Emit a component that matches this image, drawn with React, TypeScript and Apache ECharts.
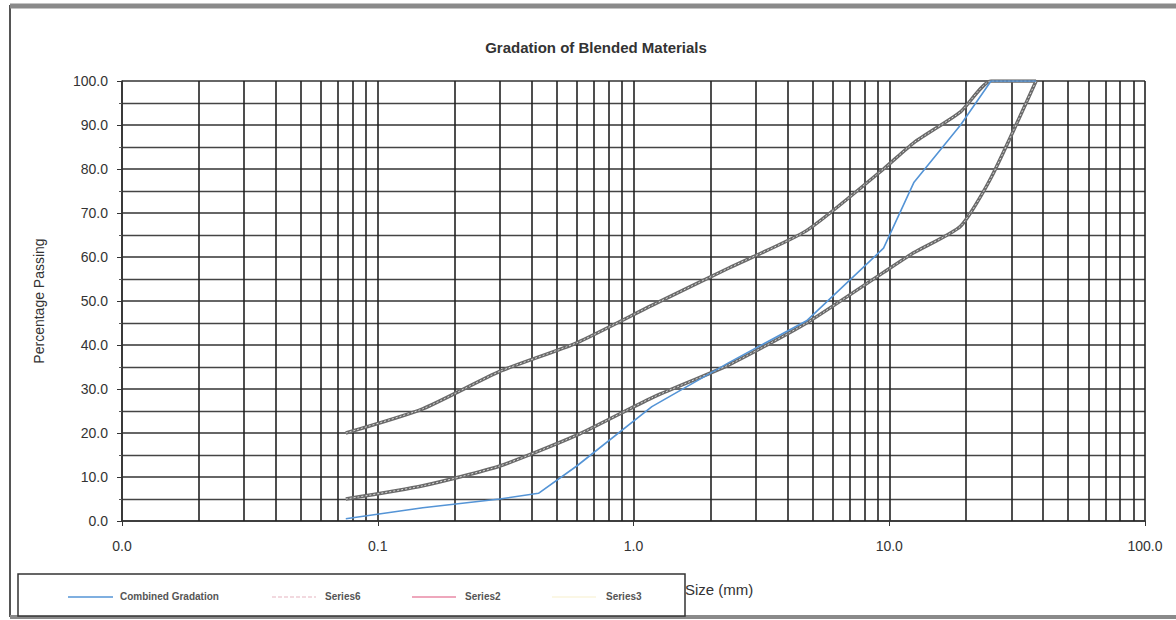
import React, { useEffect, useRef } from "react";
import * as echarts from "echarts";

// Sieve sizes (mm) and percentage passing
const UPPER_SIZES = [0.075, 0.15, 0.3, 0.6, 1.18, 2.36, 4.75, 9.5, 12.5, 19, 25, 37.5];
const UPPER_LIMIT = [20, 25.5, 34, 40.5, 49, 57.5, 66, 80, 86, 93, 100, 100];

const LOWER_SIZES = [0.075, 0.15, 0.3, 0.6, 1.18, 2.36, 4.75, 9.5, 12.5, 19, 25, 37.5];
const LOWER_LIMIT = [5, 8, 12.5, 19.5, 28, 35.5, 45, 56.5, 61, 67, 78, 100];

const COMBINED_SIZES = [0.075, 0.15, 0.3, 0.425, 0.6, 1.18, 2.36, 4.75, 9.5, 12.5, 19, 25, 37.5];
const COMBINED = [0.5, 3, 5, 6.3, 12.5, 26, 36, 45.5, 62, 77, 90, 100, 100];

// Log grid structure
const DECADES = [0.01, 0.1, 1, 10];
const MINOR_MULTIPLES = [2, 3, 4, 5, 6, 7, 8, 9];

const LEGEND_ITEMS = ["Combined Gradation", "Series6", "Series2", "Series3"];

const zip = (xs: number[], ys: number[]) => xs.map((x, i) => [x, ys[i]]);

export default function App() {
  const ref = useRef<HTMLDivElement>(null);
  useEffect(() => {
    const chart = echarts.init(ref.current!, null, { renderer: "svg" });
    const minorLines: any[] = [];
    DECADES.forEach((d) => MINOR_MULTIPLES.forEach((m) => minorLines.push({ xAxis: +(d * m).toPrecision(6) })));

    const envLine = { color: "#6a6a6a", width: 3.5 };
    const envOverlay = { color: "#d9d9d9", width: 1, type: [2, 2] as any };
    const envSmooth = 0.2;

    const font = "'Liberation Sans', Arial, sans-serif";

    chart.setOption({
      animation: false,
      backgroundColor: "#ffffff",
      title: {
        text: "Gradation of Blended Materials",
        left: 591,
        top: 35,
        textAlign: "center",
        textStyle: { fontFamily: font, fontSize: 15, fontWeight: "bold", color: "#333" },
      },
      grid: { left: 122, right: 31, top: 81, bottom: 99 },
      xAxis: {
        type: "log",
        logBase: 10,
        min: 0.01,
        max: 100,
        axisLine: { show: true, lineStyle: { color: "#333", width: 1.5 } },
        axisTick: { show: true, length: 5, lineStyle: { color: "#333" } },
        axisLabel: {
          margin: 18,
          fontFamily: font,
          fontSize: 14,
          color: "#333",
          formatter: (v: number) => v.toFixed(1),
        },
        splitLine: { show: true, lineStyle: { color: "#222", width: 1.6 } },
      },
      yAxis: {
        type: "value",
        min: 0,
        max: 100,
        interval: 10,
        name: "Percentage Passing",
        nameLocation: "middle",
        nameGap: 76,
        nameTextStyle: { fontFamily: font, fontSize: 14, color: "#333" },
        axisLine: { show: true, lineStyle: { color: "#333", width: 1.5 } },
        axisTick: { show: true, length: 5, lineStyle: { color: "#333" } },
        minorTick: { show: true, splitNumber: 2, length: 3, lineStyle: { color: "#555" } },
        axisLabel: {
          margin: 14,
          fontFamily: font,
          fontSize: 14,
          color: "#333",
          formatter: (v: number) => v.toFixed(1),
        },
        splitLine: { show: true, lineStyle: { color: "#333", width: 1.6 } },
        minorSplitLine: { show: true, lineStyle: { color: "#444", width: 1.4 } },
      },
      series: [
        {
          name: "Series6",
          type: "line",
          data: zip(UPPER_SIZES, UPPER_LIMIT),
          showSymbol: false,
          smooth: envSmooth,
          lineStyle: envLine,
          silent: true,
          z: 3,
          markLine: {
            silent: true,
            symbol: "none",
            label: { show: false },
            lineStyle: { color: "#222", width: 1.6, type: "solid" },
            data: minorLines,
            z: 1,
          },
        },
        {
          name: "Series6-texture",
          type: "line",
          data: zip(UPPER_SIZES, UPPER_LIMIT),
          showSymbol: false,
          smooth: envSmooth,
          lineStyle: envOverlay,
          silent: true,
          z: 4,
        },
        {
          name: "Series2",
          type: "line",
          data: zip(LOWER_SIZES, LOWER_LIMIT),
          showSymbol: false,
          smooth: envSmooth,
          lineStyle: envLine,
          silent: true,
          z: 3,
        },
        {
          name: "Series2-texture",
          type: "line",
          data: zip(LOWER_SIZES, LOWER_LIMIT),
          showSymbol: false,
          smooth: envSmooth,
          lineStyle: envOverlay,
          silent: true,
          z: 4,
        },
        {
          name: "Combined Gradation",
          type: "line",
          data: zip(COMBINED_SIZES, COMBINED),
          showSymbol: false,
          lineStyle: { color: "#5494d6", width: 1.6 },
          silent: true,
          z: 5,
        },
      ],
      graphic: [
        // scan frame
        { type: "rect", shape: { x: 10, y: 6, width: 1170, height: 610 }, style: { fill: "none", stroke: "#555", lineWidth: 2 }, silent: true },
        { type: "line", shape: { x1: 10, y1: 6, x2: 1176, y2: 6 }, style: { stroke: "#8a8a8a", lineWidth: 5 }, silent: true },
        { type: "line", shape: { x1: 10, y1: 617, x2: 1176, y2: 617 }, style: { stroke: "#8a8a8a", lineWidth: 4 }, silent: true },
        // x axis name
        {
          type: "text",
          left: 685,
          top: 582,
          style: { text: "Size (mm)", fontFamily: font, fontSize: 15, fill: "#333" },
        },
        // legend box
        {
          type: "rect",
          shape: { x: 18, y: 574, width: 667, height: 42 },
          style: { fill: "#fff", stroke: "#333", lineWidth: 1.5 },
          silent: true,
        },
        { type: "line", shape: { x1: 68, y1: 597, x2: 113, y2: 597 }, style: { stroke: "#5494d6", lineWidth: 1.5 } },
        { type: "text", left: 120, top: 591, style: { text: LEGEND_ITEMS[0], fontFamily: font, fontSize: 10, fontWeight: "bold", fill: "#555" } },
        { type: "line", shape: { x1: 272, y1: 597, x2: 316, y2: 597 }, style: { stroke: "#e6b3c0", lineWidth: 1.2, lineDash: [4, 2] } },
        { type: "text", left: 325, top: 591, style: { text: LEGEND_ITEMS[1], fontFamily: font, fontSize: 10, fontWeight: "bold", fill: "#555" } },
        { type: "line", shape: { x1: 412, y1: 597, x2: 456, y2: 597 }, style: { stroke: "#e88aa6", lineWidth: 1.5 } },
        { type: "text", left: 465, top: 591, style: { text: LEGEND_ITEMS[2], fontFamily: font, fontSize: 10, fontWeight: "bold", fill: "#555" } },
        { type: "line", shape: { x1: 552, y1: 597, x2: 596, y2: 597 }, style: { stroke: "#faf5dc", lineWidth: 1.5 } },
        { type: "text", left: 606, top: 591, style: { text: LEGEND_ITEMS[3], fontFamily: font, fontSize: 10, fontWeight: "bold", fill: "#555" } },
      ],
    });
    return () => chart.dispose();
  }, []);
  return (
    <div
      ref={ref}
      style={{ position: "absolute", left: 0, top: 0, width: 1176, height: 620 }}
    />
  );
}
